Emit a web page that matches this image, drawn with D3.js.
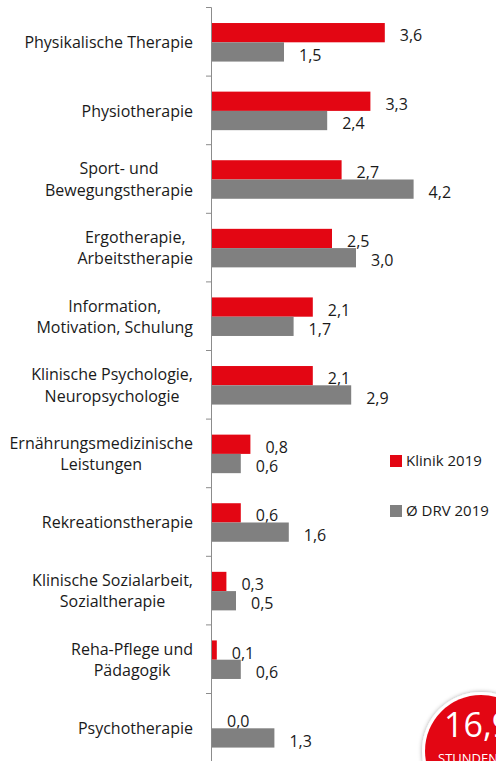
<!DOCTYPE html>
<html>
<head>
<meta charset="utf-8">
<script src="https://cdn.jsdelivr.net/npm/d3@7"></script>
<style>
  body { margin: 0; background: #fff; }
  svg { display: block; font-family: "Open Sans", Lato, sans-serif; }
</style>
</head>
<body>
<div id="chart"></div>
<script>
const width = 496;
const height = 761;

const categories = [
  ["Physikalische Therapie"],
  ["Physiotherapie"],
  ["Sport- und", "Bewegungstherapie"],
  ["Ergotherapie,", "Arbeitstherapie"],
  ["Information,", "Motivation, Schulung"],
  ["Klinische Psychologie,", "Neuropsychologie"],
  ["Ernährungsmedizinische", "Leistungen"],
  ["Rekreationstherapie"],
  ["Klinische Sozialarbeit,", "Sozialtherapie"],
  ["Reha-Pflege und", "Pädagogik"],
  ["Psychotherapie"]
];
const klinik = [3.6, 3.3, 2.7, 2.5, 2.1, 2.1, 0.8, 0.6, 0.3, 0.1, 0.0];
const drv = [1.5, 2.4, 4.2, 3.0, 1.7, 2.9, 0.6, 1.6, 0.5, 0.6, 1.3];
const seriesNames = ["Klinik 2019", "Ø DRV 2019"];
const colors = ["#e30613", "#808080"];

const keys = categories.map((c, i) => i);
const fmt = v => d3.format(".1f")(v).replace(".", ",");

const svg = d3.select("#chart")
  .append("svg")
  .attr("width", width)
  .attr("height", height);

// scales
const axisX = 211;
const topY = 7;
const bandH = 68.6;

const y = d3.scaleBand()
  .domain(keys)
  .range([topY, topY + bandH * keys.length]);

const ySub = d3.scaleBand()
  .domain([0, 1])
  .range([0, y.bandwidth()])
  .paddingOuter(0.78);

const x = d3.scaleLinear()
  .domain([0, 4.5])
  .range([axisX, axisX + 48 * 4.5]);

// axis with ticks on band boundaries
const yIdx = d3.scaleLinear()
  .domain([0, keys.length])
  .range([topY, topY + bandH * keys.length]);

const yAxis = svg.append("g")
  .attr("transform", "translate(" + axisX + ",0)")
  .call(d3.axisLeft(yIdx).tickValues(d3.range(keys.length + 1)).tickFormat("").tickSize(5));
yAxis.selectAll("path, line").attr("stroke", "#8c8c8c");

// bars
const series = [klinik, drv];
series.forEach((vals, s) => {
  svg.append("g")
    .selectAll("rect")
    .data(vals)
    .enter().append("rect")
    .attr("x", x(0) + 1)
    .attr("y", (d, i) => y(i) + ySub(s) + 1)
    .attr("width", d => Math.max(0, x(d) - x(0)))
    .attr("height", ySub.bandwidth())
    .attr("fill", colors[s]);

  svg.append("g")
    .selectAll("text")
    .data(vals)
    .enter().append("text")
    .attr("x", d => x(d) + 16)
    .attr("y", (d, i) => y(i) + ySub(s) + ySub.bandwidth() / 2 + 4)
    .attr("dy", "0.35em")
    .attr("font-size", 16)
    .attr("fill", "#1a1a1a")
    .text(d => fmt(d));
});

// category labels (centered block, right-aligned to axis)
const labelRight = 193;
const catG = svg.append("g");
categories.forEach((lines, i) => {
  const t = catG.append("text")
    .attr("font-size", 16)
    .attr("fill", "#1a1a1a")
    .attr("text-anchor", "middle");
  const lh = 21.5;
  const cy = y(i) + y.bandwidth() / 2 + 1;
  lines.forEach((l, j) => {
    t.append("tspan")
      .attr("y", cy + (j - (lines.length - 1) / 2) * lh)
      .attr("dy", "0.35em")
      .text(l);
  });
  let maxW = 0;
  t.selectAll("tspan").each(function () {
    maxW = Math.max(maxW, this.getComputedTextLength());
  });
  t.selectAll("tspan").attr("x", labelRight - maxW / 2);
});

// legend
const legend = svg.append("g");
const legendY = [461, 511];
seriesNames.forEach((n, i) => {
  legend.append("rect")
    .attr("x", 390)
    .attr("y", legendY[i] - 6)
    .attr("width", 12)
    .attr("height", 12)
    .attr("fill", colors[i]);
  legend.append("text")
    .attr("x", 406)
    .attr("y", legendY[i])
    .attr("dy", "0.35em")
    .attr("font-size", 15)
    .attr("fill", "#1a1a1a")
    .text(n);
});

// total badge
const defs = svg.append("defs");
const f = defs.append("filter").attr("id", "shadow").attr("x", "-30%").attr("y", "-30%").attr("width", "160%").attr("height", "160%");
f.append("feDropShadow").attr("dx", 0).attr("dy", 0).attr("stdDeviation", 2).attr("flood-color", "#000").attr("flood-opacity", 0.35);

const badge = svg.append("g");
badge.append("circle")
  .attr("cx", 481)
  .attr("cy", 751)
  .attr("r", 59)
  .attr("fill", "#fff")
  .attr("filter", "url(#shadow)");
badge.append("circle")
  .attr("cx", 481)
  .attr("cy", 751)
  .attr("r", 56)
  .attr("fill", "#e30613");
badge.append("text")
  .attr("x", 444)
  .attr("y", 737)
  .attr("font-size", 34)
  .attr("fill", "#fff")
  .text("16,9");
badge.append("text")
  .attr("x", 438)
  .attr("y", 763)
  .attr("font-size", 13)
  .attr("fill", "#fff")
  .text("STUNDEN");
</script>
</body>
</html>
